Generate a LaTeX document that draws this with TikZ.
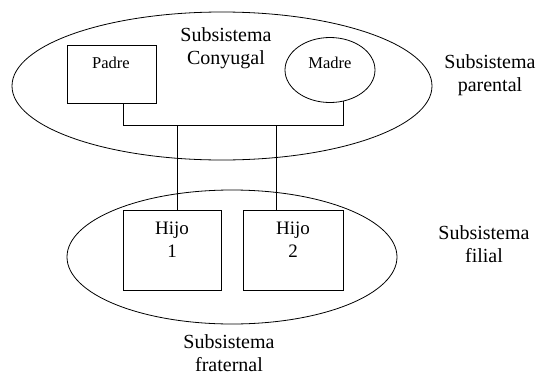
\documentclass[tikz,border=0pt]{standalone}
\usepackage{fontspec}
\setmainfont{Liberation Serif}
\usetikzlibrary{shapes.geometric}
\begin{document}
\begin{tikzpicture}[x=1pt,y=-1pt,line width=0.8pt,
  bigtxt/.style={font=\fontsize{20}{23}\selectfont,align=center,inner sep=0pt},
  smalltxt/.style={font=\fontsize{16.5}{20}\selectfont,inner sep=0pt},
  hijotxt/.style={font=\fontsize{19}{23}\selectfont,align=center,inner sep=0pt},
  oval/.style={draw,ellipse,inner sep=0pt},
  box/.style={draw,rectangle,inner sep=0pt}]
\useasboundingbox (0,0) rectangle (542,378);
% ellipses
\node[oval,minimum width=420pt,minimum height=148pt] (par) at (222,86) {};
\node[oval,minimum width=330pt,minimum height=134pt] (fil) at (232,257) {};
% parents
\node[box,minimum width=89pt,minimum height=58pt] (pad) at (111.5,74) {};
\node[smalltxt] (padt) at (111,63) {Padre};
\node[oval,minimum width=90pt,minimum height=65pt] (mad) at (330,70) {};
\node[smalltxt] (madt) at (330,63) {Madre};
% children
\node[box,minimum width=98pt,minimum height=80pt] (h1) at (172,250) {};
\node[hijotxt] (h1t) at (172,240) {Hijo\\1};
\node[box,minimum width=100pt,minimum height=80pt] (h2) at (293,250) {};
\node[hijotxt] (h2t) at (293,240) {Hijo\\2};
% labels
\node[bigtxt] (conyugal) at (226,48) {Subsistema\\Conyugal};
\node[bigtxt] (parental) at (490,75) {Subsistema\\parental};
\node[bigtxt] (filial) at (484,244) {Subsistema\\filial};
\node[bigtxt] (fraternal) at (229,353) {Subsistema\\fraternal};
% connectors
\coordinate (j1) at (123,125);
\coordinate (j2) at (343,125);
\coordinate (k1) at (177,125);
\coordinate (k2) at (276,125);
\draw (pad.south -| j1) -- (j1) -- (j2) -- (j2 |- mad.-67);
\draw (k1) -- (k1 |- h1.north);
\draw (k2) -- (k2 |- h2.north);
\end{tikzpicture}
\end{document}
